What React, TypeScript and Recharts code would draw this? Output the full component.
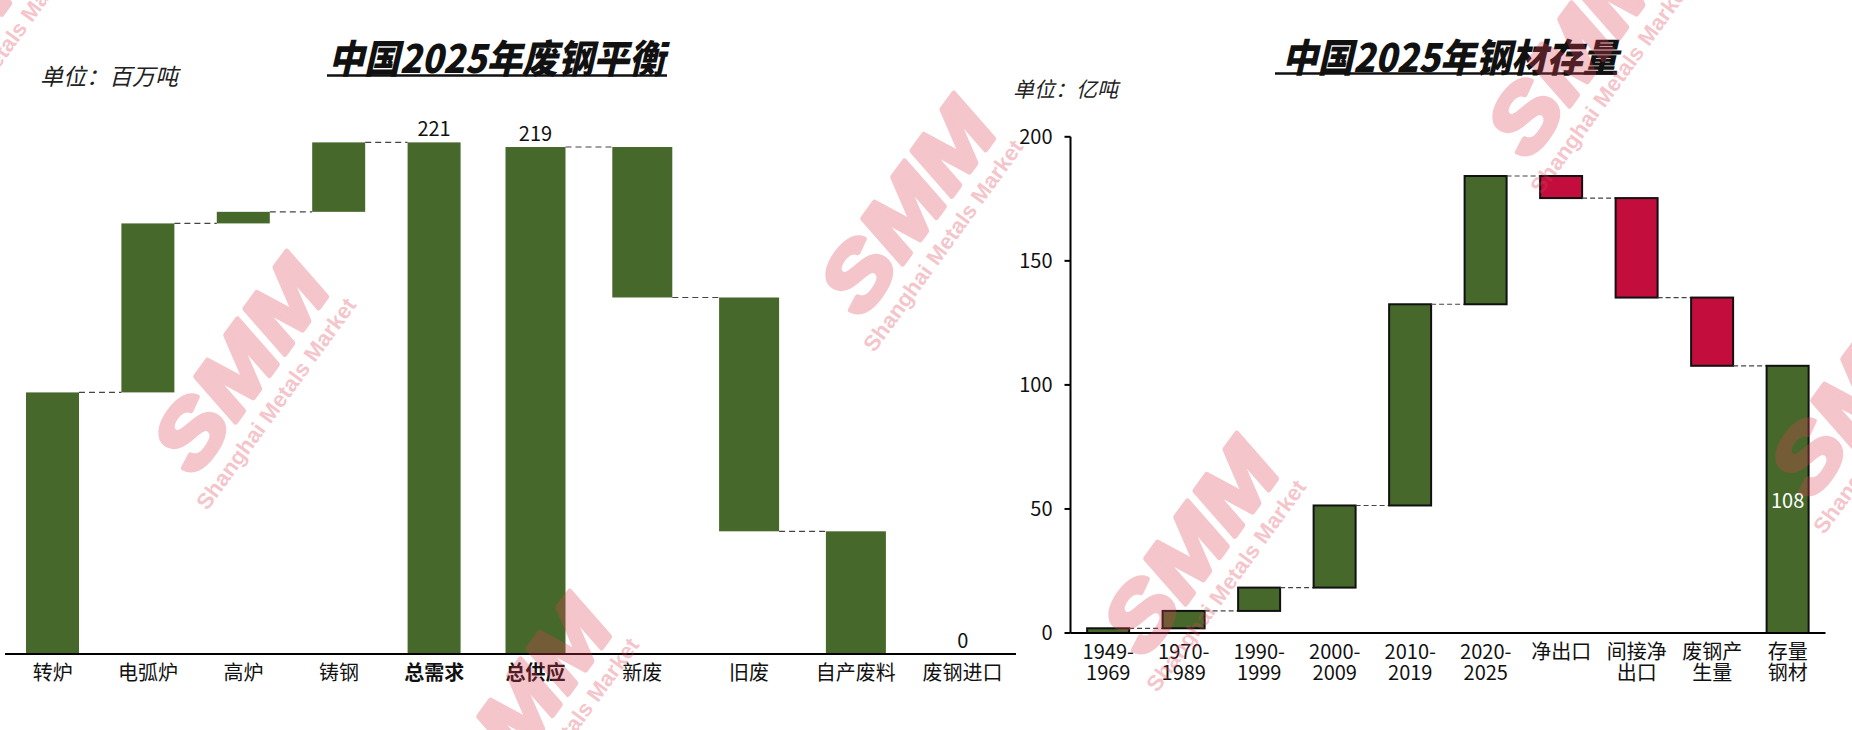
import React from 'react';
import { BarChart, Bar, XAxis, YAxis } from 'recharts';

// 左图：中国2025年废钢平衡（百万吨）
const demandCats = ['转炉', '电弧炉', '高炉', '铸钢'];
const demandVals = [113, 73, 5, 30];
const demandTotalCat = '总需求';

const supplyTotalCat = '总供应';
const supplyCats = ['新废', '旧废', '自产废料', '废钢进口'];
const supplyVals = [65, 101, 53, 0];

// 右图：中国2025年钢材存量（亿吨）
const stockCats = ['1949-\n1969', '1970-\n1989', '1990-\n1999', '2000-\n2009', '2010-\n2019', '2020-\n2025', '净出口', '间接净\n出口', '废钢产\n生量'];
const stockVals = [1.9, 7.0, 9.4, 33.1, 81.1, 51.7, -8.9, -40.1, -27.5];
const stockTotalCat = '存量\n钢材';
const stockTicks = [0, 50, 100, 150, 200];

const GREEN = '#46692b';
const RED = '#c20d3d';
const FONT = '"Noto Sans CJK SC", "Noto Sans", sans-serif';

type Row = { name: string; base: number; value: number; up: boolean; total: boolean; label: string; color: string };

const buildDemand = (): Row[] => {
  let run = 0;
  const rows: Row[] = demandCats.map((name, i) => {
    const base = run;
    run += demandVals[i];
    return { name, base, value: demandVals[i], up: true, total: false, label: '', color: GREEN };
  });
  rows.push({ name: demandTotalCat, base: 0, value: run, up: true, total: true, label: String(run), color: GREEN });
  return rows;
};

const buildSupply = (): Row[] => {
  const total = supplyVals.reduce((a, b) => a + b, 0);
  const rows: Row[] = [{ name: supplyTotalCat, base: 0, value: total, up: true, total: true, label: String(total), color: GREEN }];
  let run = total;
  supplyCats.forEach((name, i) => {
    run -= supplyVals[i];
    rows.push({ name, base: run, value: supplyVals[i], up: false, total: false, label: supplyVals[i] === 0 ? '0' : '', color: GREEN });
  });
  return rows;
};

const buildStock = (): Row[] => {
  let run = 0;
  const rows: Row[] = stockCats.map((name, i) => {
    const v = stockVals[i];
    if (v >= 0) {
      const base = run;
      run += v;
      return { name, base, value: v, up: true, total: false, label: '', color: GREEN };
    }
    run += v;
    return { name, base: run, value: -v, up: false, total: false, label: '', color: RED };
  });
  rows.push({ name: stockTotalCat, base: 0, value: run, up: true, total: true, label: String(Math.round(run)), color: GREEN });
  return rows;
};

const demandRows = buildDemand();
const supplyRows = buildSupply();
const stockRows = buildStock();

// bar + dashed link to the next bar + optional label
const waterfallShape = (step: number, count: number, outlined: boolean, dash: string, inside: boolean) => (props: any) => {
  const { x, y, width, height, index, payload } = props;
  const levelY = payload.up ? y : y + height;
  const level = payload.up ? payload.base + payload.value : payload.base;
  const link = index < count - 1 && level > 0;
  return (
    <g>
      <rect x={x} y={y} width={width} height={height} fill={payload.color}
        stroke={outlined ? '#111' : 'none'} strokeWidth={outlined ? 2 : 0} />
      {link && (
        <line x1={x + width} x2={x + step} y1={levelY} y2={levelY}
          stroke="#444" strokeWidth={1.2} strokeDasharray={dash} />
      )}
      {payload.label !== '' && (
        <text x={x + width / 2} y={inside ? y + height / 2 : y - 15} textAnchor="middle"
          dominantBaseline="central" fontSize={20} fontFamily={FONT} fill={inside ? '#fff' : '#111'}>
          {payload.label}
        </text>
      )}
    </g>
  );
};

const LeftTick = (props: any) => {
  const { x, y, payload } = props;
  const bold = payload.value === demandTotalCat || payload.value === supplyTotalCat;
  return (
    <text x={x} y={y + 17} textAnchor="middle" dominantBaseline="central" fontSize={20}
      fontFamily={FONT} fontWeight={bold ? 700 : 400} fill="#111">
      {payload.value}
    </text>
  );
};

const RightTick = (props: any) => {
  const { x, y, payload } = props;
  const lines = String(payload.value).split('\n');
  return (
    <text x={x} textAnchor="middle" dominantBaseline="central" fontSize={20} fontFamily={FONT} fill="#111">
      {lines.map((l, i) => (
        <tspan key={i} x={x} y={y + 16.5 + i * 21}>{l}</tspan>
      ))}
    </text>
  );
};

const axisLine = { stroke: '#000', strokeWidth: 2 };

const LeftPart = ({ rows, width, left, marginLeft }: { rows: Row[]; width: number; left: number; marginLeft: number }) => (
  <div style={{ position: 'absolute', left, top: 0 }}>
    <BarChart width={width} height={730} data={rows} barCategoryGap="22%"
      margin={{ top: 98.4, right: 0, bottom: 36, left: marginLeft }}>
      <XAxis dataKey="name" height={40} axisLine={axisLine} tickLine={false} tickSize={0} tickMargin={0}
        tick={<LeftTick />} interval={0} />
      <YAxis hide domain={[0, 240]} />
      <Bar dataKey="base" stackId="s" fill="none" isAnimationActive={false} />
      <Bar dataKey="value" stackId="s" isAnimationActive={false}
        shape={waterfallShape((width - marginLeft) / rows.length, rows.length, false, '6 4', false)} />
    </BarChart>
  </div>
);

const RightPart = () => (
  <div style={{ position: 'absolute', left: 1000, top: 0 }}>
    <BarChart width={852} height={730} data={stockRows} barCategoryGap="22%"
      margin={{ top: 136.8, right: 26.5, bottom: 37, left: 0 }}>
      <XAxis dataKey="name" height={60} axisLine={axisLine} tickLine={false} tickSize={0} tickMargin={0}
        tick={<RightTick />} interval={0} />
      <YAxis width={70.5} domain={[0, 200]} ticks={stockTicks} axisLine={axisLine}
        tickLine={{ stroke: '#000', strokeWidth: 2 }} tickSize={6} tickMargin={12}
        tick={{ fontSize: 20, fontFamily: FONT, fill: '#111' }} />
      <Bar dataKey="base" stackId="s" fill="none" isAnimationActive={false} />
      <Bar dataKey="value" stackId="s" isAnimationActive={false}
        shape={waterfallShape(755 / stockRows.length, stockRows.length, true, '5 3', true)} />
    </BarChart>
  </div>
);

const markSpots = [[-43, 25], [240, 365], [523, 705], [907, 207], [1190, 547], [1574, 49], [1857, 389]];

const WM = 'rgb(222,65,85)';

const Watermark = ({ cx, cy }: { cx: number; cy: number }) => (
  <g transform={`translate(${cx} ${cy}) rotate(-54)`} opacity={0.3} fill={WM}>
    <text x={0} y={0} textAnchor="middle" dominantBaseline="central" fontFamily='"Liberation Sans", Arial, sans-serif'
      fontSize={86} fontWeight={700} fontStyle="italic" textLength={235} lengthAdjust="spacingAndGlyphs"
      stroke={WM} strokeWidth={5} strokeLinejoin="round">SMM</text>
    <text x={-10} y={52} textAnchor="middle" dominantBaseline="central" fontFamily='"Liberation Sans", Arial, sans-serif'
      fontSize={22} fontWeight={700} textLength={255} lengthAdjust="spacingAndGlyphs">Shanghai Metals Market</text>
  </g>
);

const Title = ({ x, y, text, x1, x2, uy }: { x: number; y: number; text: string; x1: number; x2: number; uy: number }) => (
  <g>
    <text x={x} y={y} textAnchor="middle" dominantBaseline="central" fontFamily={FONT} fontSize={39}
      fontWeight={900} fontStyle="italic" textLength={336} lengthAdjust="spacingAndGlyphs" fill="#111">{text}</text>
    <line x1={x1} x2={x2} y1={uy} y2={uy} stroke="#111" strokeWidth={2.5} />
  </g>
);

export default function App() {
  return (
    <div style={{ position: 'absolute', left: 0, top: 0, width: 1852, height: 730, overflow: 'hidden', background: '#fff', fontFamily: FONT }}>
      <LeftPart rows={demandRows} width={482} left={0} marginLeft={5} />
      <LeftPart rows={supplyRows} width={534} left={482} marginLeft={0} />
      <RightPart />
      <svg width={1852} height={730} style={{ position: 'absolute', left: 0, top: 0, pointerEvents: 'none' }}>
        <Title x={496.5} y={56} text="中国2025年废钢平衡" x1={327} x2={667} uy={75.5} />
        <Title x={1450} y={54.5} text="中国2025年钢材存量" x1={1275} x2={1617} uy={73.5} />
        <text x={40} y={75} dominantBaseline="central" fontFamily={FONT} fontSize={23} fontStyle="italic" fill="#222">单位：百万吨</text>
        <text x={1013} y={88} dominantBaseline="central" fontFamily={FONT} fontSize={21} fontStyle="italic" fill="#222">单位：亿吨</text>
        {markSpots.map(([cx, cy], i) => <Watermark key={i} cx={cx} cy={cy} />)}
      </svg>
    </div>
  );
}
